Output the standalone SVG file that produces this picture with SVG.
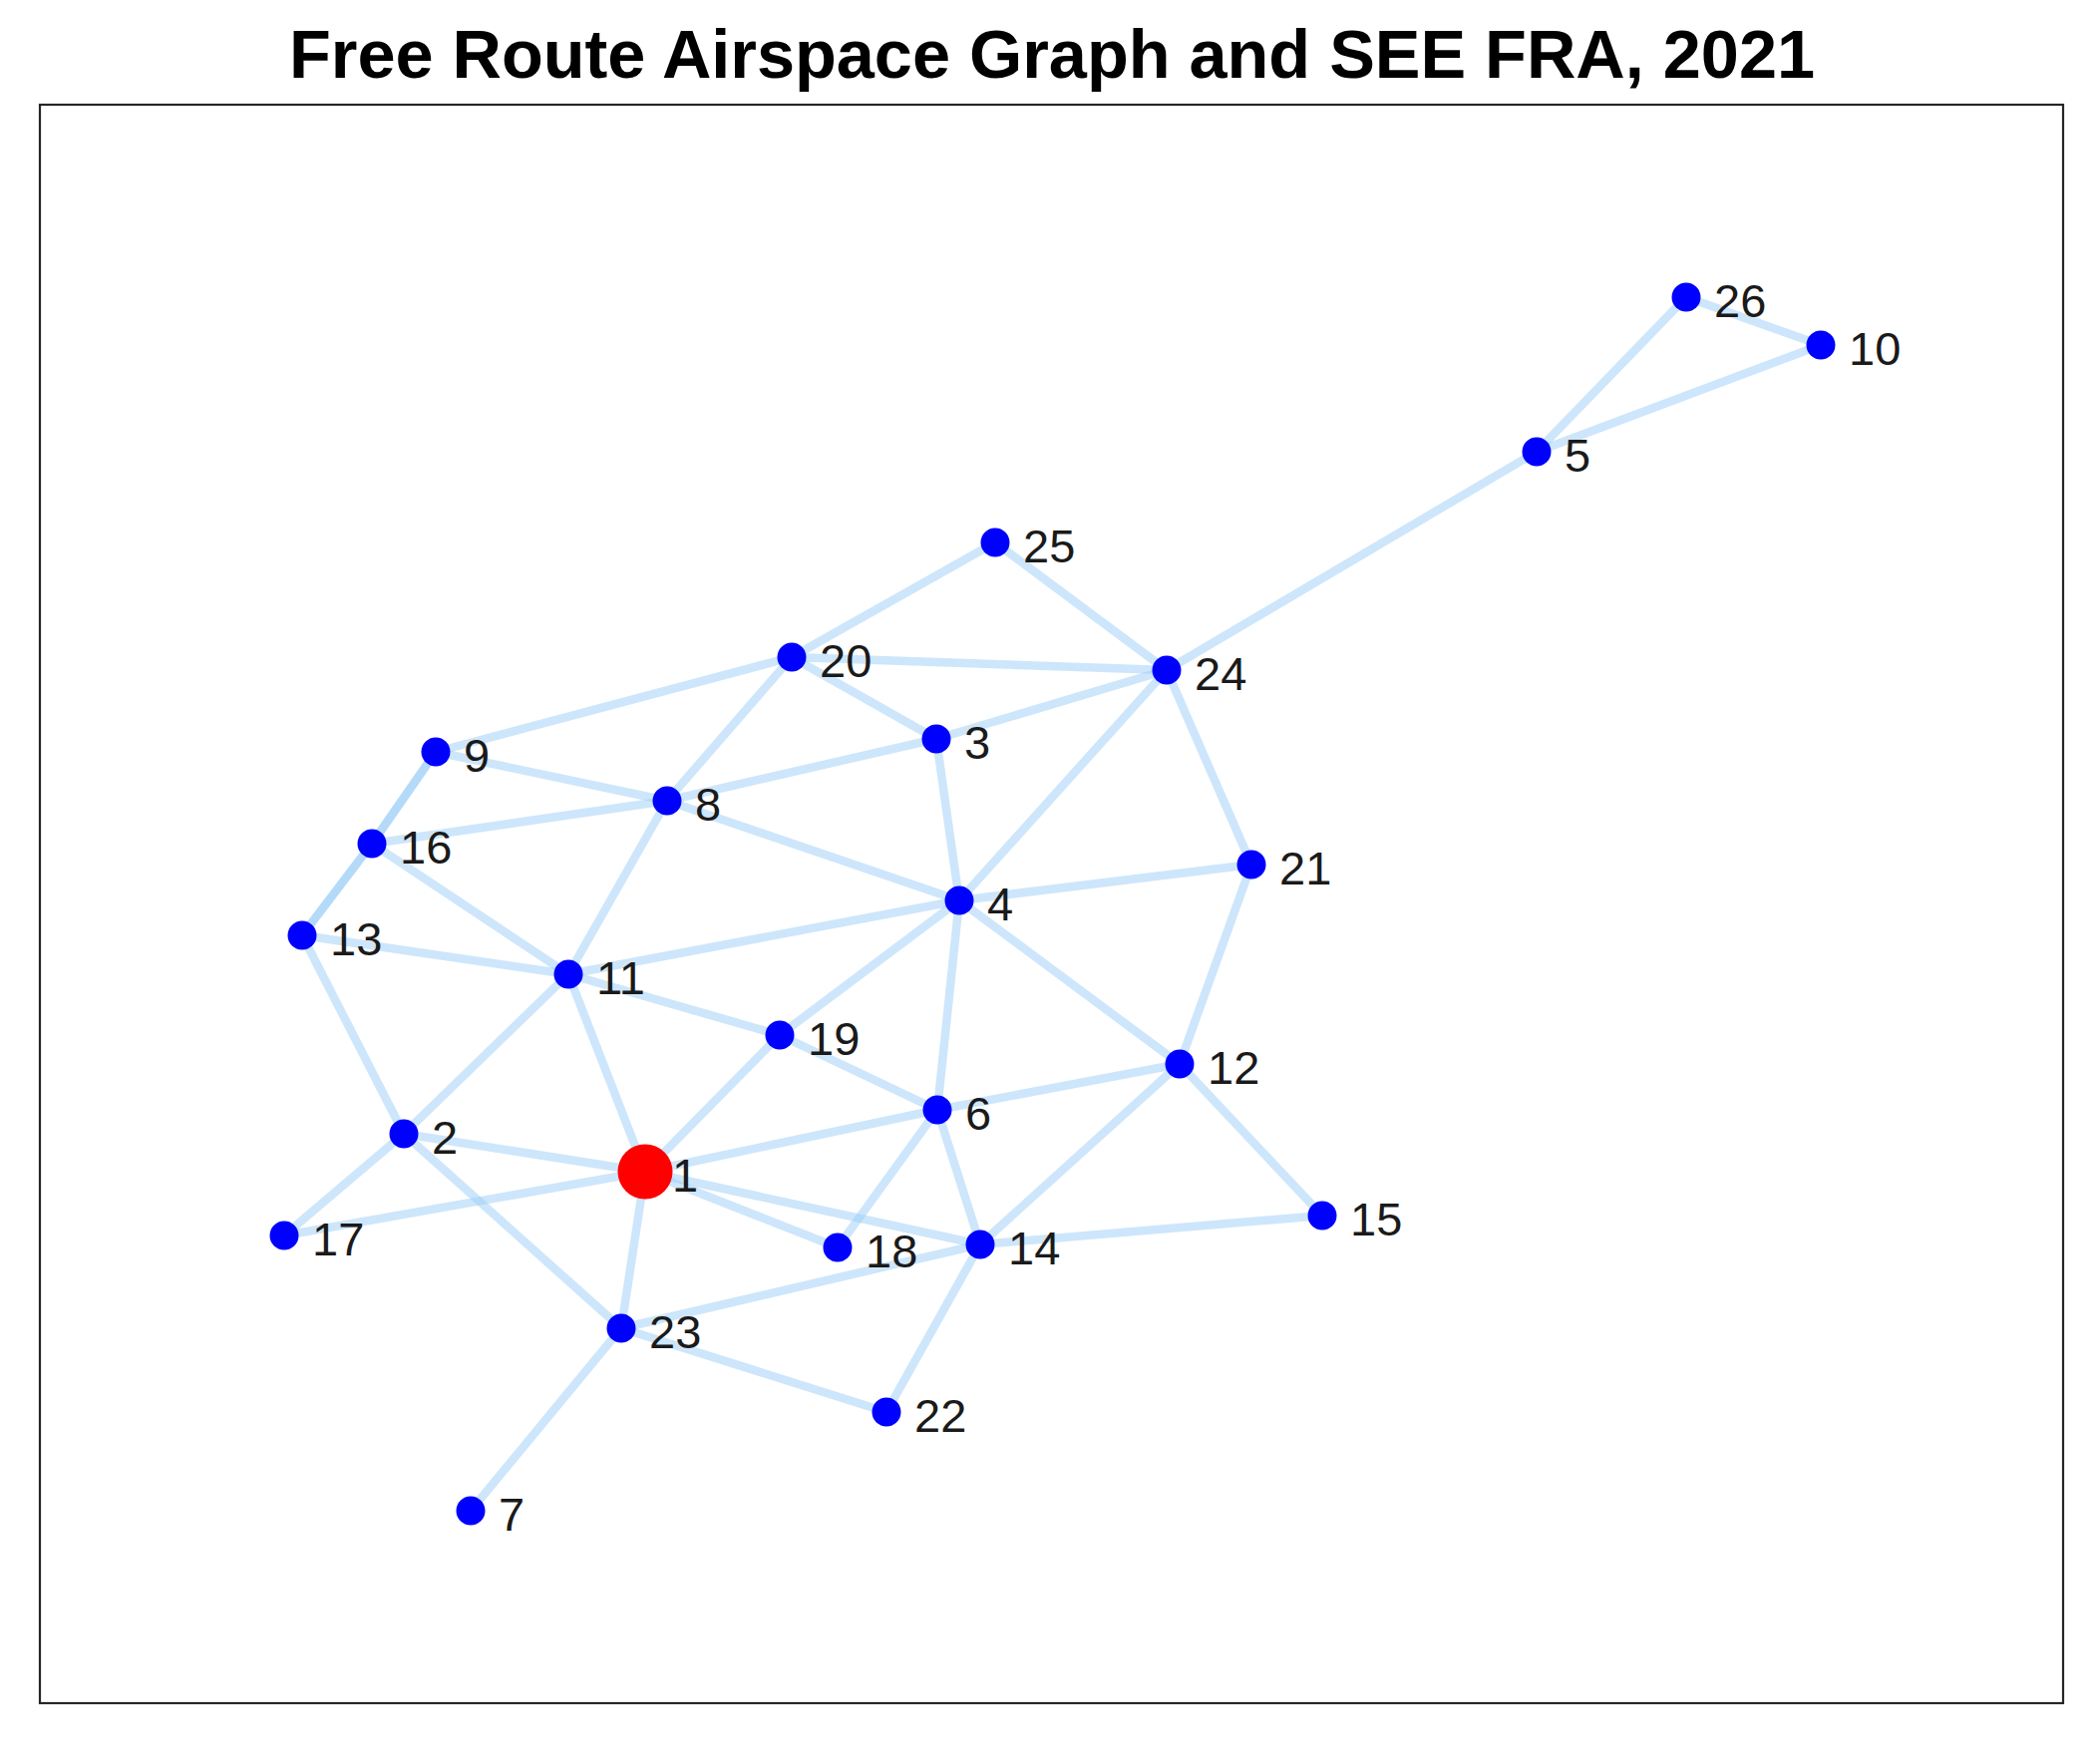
<svg xmlns="http://www.w3.org/2000/svg" width="2106" height="1767" viewBox="0 0 2106 1767">
<style>
.bg{fill:#ffffff}
.frame{fill:none;stroke:#262626;stroke-width:2.2}
.title{font-family:"Liberation Sans",Arial,sans-serif;font-weight:bold;font-size:69px;fill:#000000;text-anchor:middle}
.e{stroke:rgb(155,205,247);stroke-opacity:0.5;stroke-width:8.5;fill:none}
.n{fill:#0000ff}
.r{fill:#ff0000}
.lbl{font-family:"Liberation Sans",Arial,sans-serif;font-size:47px;fill:#1a1a1a}
</style>
<rect class="bg" x="0" y="0" width="2106" height="1767"/>
<text class="title" x="1055" y="78" textLength="1530" lengthAdjust="spacingAndGlyphs">Free Route Airspace Graph and SEE FRA, 2021</text>
<rect class="frame" x="40" y="105" width="2029" height="1603"/>
<g id="edges">
<line class="e" x1="1691" y1="298" x2="1826" y2="346"/>
<line class="e" x1="1691" y1="298" x2="1541" y2="453"/>
<line class="e" x1="1541" y1="453" x2="1826" y2="346"/>
<line class="e" x1="1541" y1="453" x2="1170" y2="672"/>
<line class="e" x1="998" y1="544" x2="794" y2="659"/>
<line class="e" x1="998" y1="544" x2="1170" y2="672"/>
<line class="e" x1="794" y1="659" x2="1170" y2="672"/>
<line class="e" x1="794" y1="659" x2="939" y2="741"/>
<line class="e" x1="794" y1="659" x2="437" y2="754"/>
<line class="e" x1="794" y1="659" x2="669" y2="803"/>
<line class="e" x1="939" y1="741" x2="1170" y2="672"/>
<line class="e" x1="939" y1="741" x2="669" y2="803"/>
<line class="e" x1="939" y1="741" x2="962" y2="903"/>
<line class="e" x1="1170" y1="672" x2="962" y2="903"/>
<line class="e" x1="1170" y1="672" x2="1255" y2="867"/>
<line class="e" x1="437" y1="754" x2="669" y2="803"/>
<line class="e" x1="437" y1="754" x2="373" y2="846"/>
<line class="e" x1="437" y1="754" x2="373" y2="846"/>
<line class="e" x1="373" y1="846" x2="669" y2="803"/>
<line class="e" x1="373" y1="846" x2="303" y2="938"/>
<line class="e" x1="373" y1="846" x2="303" y2="938"/>
<line class="e" x1="373" y1="846" x2="570" y2="977"/>
<line class="e" x1="669" y1="803" x2="962" y2="903"/>
<line class="e" x1="669" y1="803" x2="570" y2="977"/>
<line class="e" x1="962" y1="903" x2="1255" y2="867"/>
<line class="e" x1="962" y1="903" x2="570" y2="977"/>
<line class="e" x1="962" y1="903" x2="782" y2="1038"/>
<line class="e" x1="962" y1="903" x2="940" y2="1113"/>
<line class="e" x1="962" y1="903" x2="1183" y2="1067"/>
<line class="e" x1="1255" y1="867" x2="1183" y2="1067"/>
<line class="e" x1="303" y1="938" x2="570" y2="977"/>
<line class="e" x1="303" y1="938" x2="405" y2="1137"/>
<line class="e" x1="570" y1="977" x2="782" y2="1038"/>
<line class="e" x1="570" y1="977" x2="405" y2="1137"/>
<line class="e" x1="570" y1="977" x2="647" y2="1175"/>
<line class="e" x1="782" y1="1038" x2="940" y2="1113"/>
<line class="e" x1="782" y1="1038" x2="647" y2="1175"/>
<line class="e" x1="1183" y1="1067" x2="940" y2="1113"/>
<line class="e" x1="1183" y1="1067" x2="983" y2="1248"/>
<line class="e" x1="1183" y1="1067" x2="1326" y2="1219"/>
<line class="e" x1="940" y1="1113" x2="647" y2="1175"/>
<line class="e" x1="940" y1="1113" x2="840" y2="1251"/>
<line class="e" x1="940" y1="1113" x2="983" y2="1248"/>
<line class="e" x1="405" y1="1137" x2="647" y2="1175"/>
<line class="e" x1="405" y1="1137" x2="285" y2="1239"/>
<line class="e" x1="405" y1="1137" x2="623" y2="1332"/>
<line class="e" x1="647" y1="1175" x2="285" y2="1239"/>
<line class="e" x1="647" y1="1175" x2="840" y2="1251"/>
<line class="e" x1="647" y1="1175" x2="983" y2="1248"/>
<line class="e" x1="647" y1="1175" x2="623" y2="1332"/>
<line class="e" x1="623" y1="1332" x2="983" y2="1248"/>
<line class="e" x1="623" y1="1332" x2="889" y2="1416"/>
<line class="e" x1="623" y1="1332" x2="472" y2="1515"/>
<line class="e" x1="983" y1="1248" x2="889" y2="1416"/>
<line class="e" x1="983" y1="1248" x2="1326" y2="1219"/>
</g>
<g id="node1"><circle class="r" cx="647" cy="1175" r="27.5"/><text class="lbl" x="674" y="1195">1</text></g>
<g id="node2"><circle class="n" cx="405" cy="1137" r="14.5"/><text class="lbl" x="433" y="1157">2</text></g>
<g id="node3"><circle class="n" cx="939" cy="741" r="14.5"/><text class="lbl" x="967" y="761">3</text></g>
<g id="node4"><circle class="n" cx="962" cy="903" r="14.5"/><text class="lbl" x="990" y="923">4</text></g>
<g id="node5"><circle class="n" cx="1541" cy="453" r="14.5"/><text class="lbl" x="1569" y="473">5</text></g>
<g id="node6"><circle class="n" cx="940" cy="1113" r="14.5"/><text class="lbl" x="968" y="1133">6</text></g>
<g id="node7"><circle class="n" cx="472" cy="1515" r="14.5"/><text class="lbl" x="500" y="1535">7</text></g>
<g id="node8"><circle class="n" cx="669" cy="803" r="14.5"/><text class="lbl" x="697" y="823">8</text></g>
<g id="node9"><circle class="n" cx="437" cy="754" r="14.5"/><text class="lbl" x="465" y="774">9</text></g>
<g id="node10"><circle class="n" cx="1826" cy="346" r="14.5"/><text class="lbl" x="1854" y="366">10</text></g>
<g id="node11"><circle class="n" cx="570" cy="977" r="14.5"/><text class="lbl" x="598" y="997">11</text></g>
<g id="node12"><circle class="n" cx="1183" cy="1067" r="14.5"/><text class="lbl" x="1211" y="1087">12</text></g>
<g id="node13"><circle class="n" cx="303" cy="938" r="14.5"/><text class="lbl" x="331" y="958">13</text></g>
<g id="node14"><circle class="n" cx="983" cy="1248" r="14.5"/><text class="lbl" x="1011" y="1268">14</text></g>
<g id="node15"><circle class="n" cx="1326" cy="1219" r="14.5"/><text class="lbl" x="1354" y="1239">15</text></g>
<g id="node16"><circle class="n" cx="373" cy="846" r="14.5"/><text class="lbl" x="401" y="866">16</text></g>
<g id="node17"><circle class="n" cx="285" cy="1239" r="14.5"/><text class="lbl" x="313" y="1259">17</text></g>
<g id="node18"><circle class="n" cx="840" cy="1251" r="14.5"/><text class="lbl" x="868" y="1271">18</text></g>
<g id="node19"><circle class="n" cx="782" cy="1038" r="14.5"/><text class="lbl" x="810" y="1058">19</text></g>
<g id="node20"><circle class="n" cx="794" cy="659" r="14.5"/><text class="lbl" x="822" y="679">20</text></g>
<g id="node21"><circle class="n" cx="1255" cy="867" r="14.5"/><text class="lbl" x="1283" y="887">21</text></g>
<g id="node22"><circle class="n" cx="889" cy="1416" r="14.5"/><text class="lbl" x="917" y="1436">22</text></g>
<g id="node23"><circle class="n" cx="623" cy="1332" r="14.5"/><text class="lbl" x="651" y="1352">23</text></g>
<g id="node24"><circle class="n" cx="1170" cy="672" r="14.5"/><text class="lbl" x="1198" y="692">24</text></g>
<g id="node25"><circle class="n" cx="998" cy="544" r="14.5"/><text class="lbl" x="1026" y="564">25</text></g>
<g id="node26"><circle class="n" cx="1691" cy="298" r="14.5"/><text class="lbl" x="1719" y="318">26</text></g>
</svg>
